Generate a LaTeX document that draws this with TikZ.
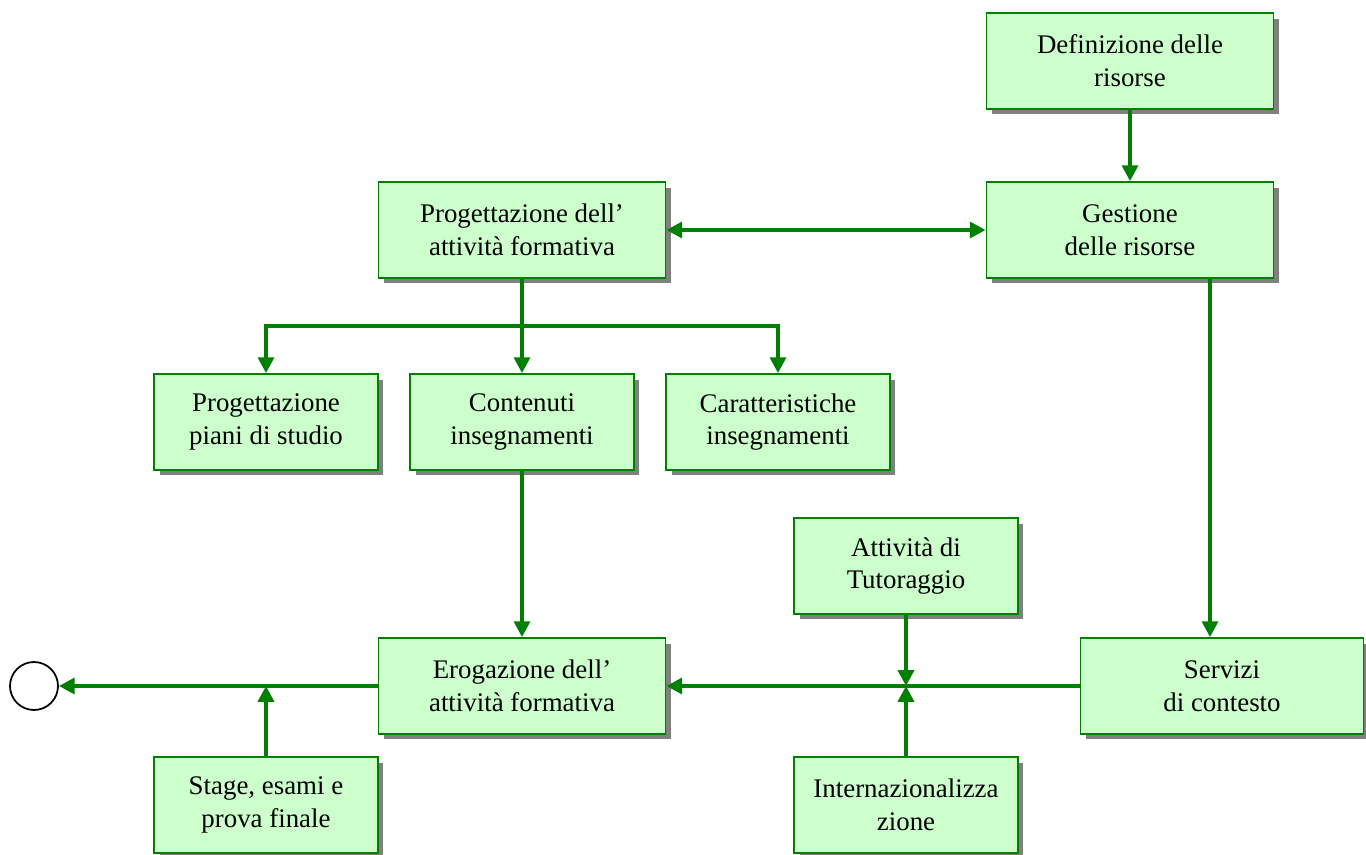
\documentclass[tikz,border=0pt]{standalone}
\usepackage{fontspec}
\setmainfont{Liberation Serif}
\usetikzlibrary{arrows.meta, shadows, positioning}

\definecolor{boxfill}{HTML}{CCFFCC}
\definecolor{flowgreen}{HTML}{008000}

\begin{document}
\begin{tikzpicture}[
    x=0.02cm, y=-0.02cm,
    every node/.style={font=\fontsize{15.3}{18.7}\selectfont},
    box/.style={rectangle, draw=flowgreen, line width=1pt, fill=boxfill, align=center, minimum width=5.74cm, minimum height=1.92cm, drop shadow={shadow xshift=0.11cm, shadow yshift=-0.11cm, fill=gray, opacity=1}},
    smallbox/.style={box, minimum width=4.48cm},
    line/.style={line width=2.2pt, draw=flowgreen},
    arrow/.style={line, -{Triangle[length=9pt, width=9pt]}},
    biarrow/.style={line, {Triangle[length=9pt, width=9pt]}-{Triangle[length=9pt, width=9pt]}}
]
\useasboundingbox (0,0) rectangle (1366,855);

% Resources
\node[box] (defin) at (1130,61) {Definizione delle\\risorse};
\node[box] (gest) at (1130,230) {Gestione\\delle risorse};

% Design of the teaching activity
\node[box] (prog) at (522,230) {Progettazione dell'\\attività formativa};
\node[smallbox] (piani) at (266,422) {Progettazione\\piani di studio};
\node[smallbox] (cont) at (522,422) {Contenuti\\insegnamenti};
\node[smallbox] (caratt) at (778,422) {Caratteristiche\\insegnamenti};

% Delivery
\node[smallbox] (tutor) at (906,566) {Attività di\\Tutoraggio};
\node[box, minimum width=5.66cm] (serv) at (1222,686) {Servizi\\di contesto};
\node[box] (erog) at (522,686) {Erogazione dell'\\attività formativa};
\node[smallbox] (stage) at (266,805) {Stage, esami e\\prova finale};
\node[smallbox] (intern) at (906,805) {Internazionalizza\\zione};
\node[circle, draw, line width=1pt, minimum size=0.96cm] (fine) at (34,686) {};

\coordinate (split) at (522,326);
\coordinate (join) at (906,686);
\coordinate (stagejoin) at (266,686);

\draw[arrow] (defin) -- (gest);
\draw[biarrow] (prog) -- (gest);

\draw[line] (prog) -- (split);
\draw[arrow] (split) -- (cont);
\draw[arrow] (split) -| (piani);
\draw[arrow] (split) -| (caratt);
\draw[arrow] (cont) -- (erog);

\draw[arrow] ([xshift=1.6cm]gest.south) -- ([xshift=-0.24cm]serv.north);
\draw[arrow] (serv) -- (erog);
\draw[arrow] (tutor) -- (join);
\draw[arrow] (intern) -- (join);

\draw[arrow] (erog) -- (fine);
\draw[arrow] (stage) -- (stagejoin);

\end{tikzpicture}
\end{document}
